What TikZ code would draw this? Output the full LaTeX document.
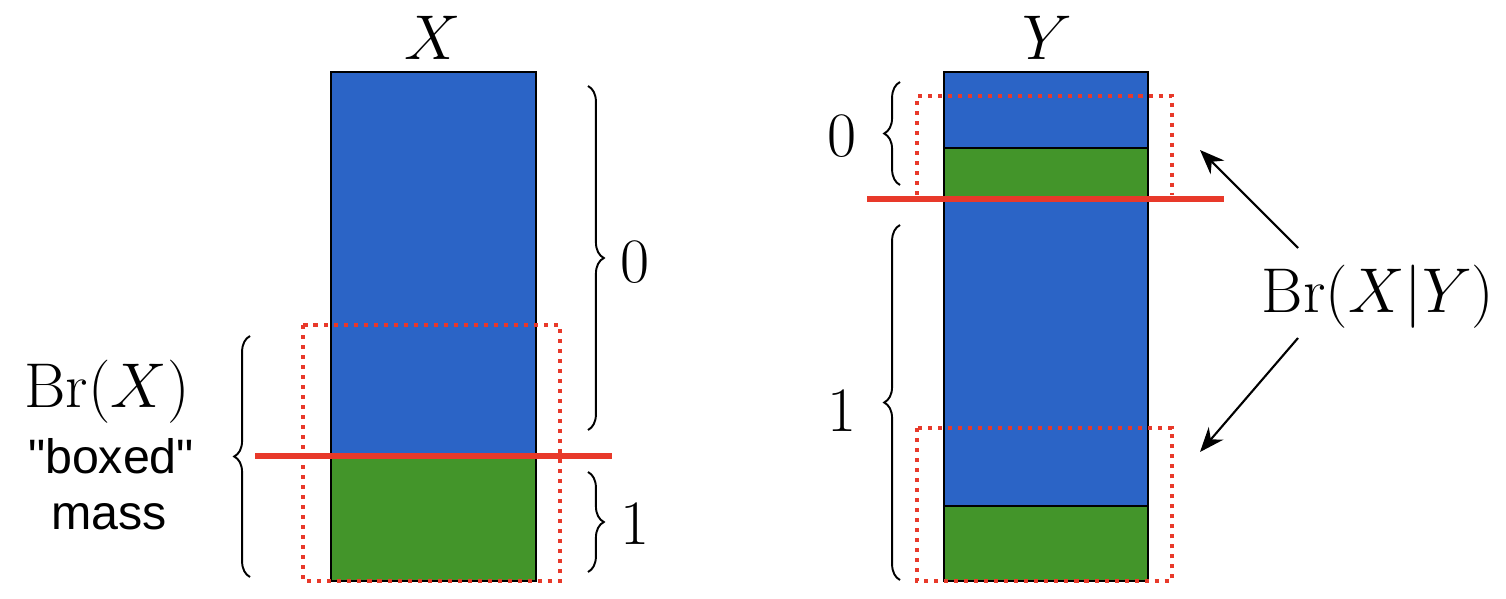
\RequirePackage{fix-cm}
\documentclass[tikz,border=0pt]{standalone}
\usepackage{fontspec}
\newfontfamily\labelsans{Liberation Sans}
\usetikzlibrary{decorations.pathreplacing,arrows.meta}
\definecolor{barblue}{HTML}{2B64C6}
\definecolor{bargreen}{HTML}{43952A}
\definecolor{cutred}{HTML}{E8392A}
\tikzset{
  bluepart/.style={fill=barblue,draw=black,line width=1.4pt},
  greenpart/.style={fill=bargreen,draw=black,line width=1.4pt},
  cutline/.style={draw=cutred,line width=3.4pt},
  boxedmass/.style={draw=cutred,line width=2.3pt,dash pattern=on 2.3pt off 3.4pt},
  bracedeco/.style={decorate,decoration={brace,amplitude=9pt},line width=1.1pt},
  mathlabel/.style={font=\fontsize{36}{42}\selectfont,inner sep=0pt},
  sanslabel/.style={font=\labelsans\fontsize{27.5}{31}\selectfont,inner sep=0pt},
  pointer/.style={-{Stealth[length=14pt,width=11pt]},line width=1.2pt}
}
\begin{document}
\begin{tikzpicture}[x=0.02cm,y=-0.02cm]
\useasboundingbox (0,0) rectangle (1506,598);
% ---- left column X ----
\draw[bluepart] (331,72) rectangle (536,456);
\draw[greenpart] (331,456) rectangle (536,581);
\draw[boxedmass] (303,325) rectangle (560,581);
\coordinate (xcutL) at (255,456);
\coordinate (xcutR) at (612,456);
\draw[cutline] (xcutL) -- (xcutR);
\node[mathlabel] (xlab) at (433,38) {$X$};
\draw[bracedeco] (588,86) -- (588,430);
\draw[bracedeco] (588,472) -- (588,572);
\node[mathlabel,anchor=west] (x0) at (620,262) {$0$};
\node[mathlabel,anchor=west] (x1) at (620,524) {$1$};
\draw[bracedeco] (250,577) -- (250,336);
\node[mathlabel] (brx) at (107,392) {$\mathrm{Br}(X)$};
\node[sanslabel] (boxed) at (111,456) {"boxed"};
\node[sanslabel] (mass) at (109,517) {mass};
% ---- right column Y ----
\draw[bluepart] (944,72) rectangle (1148,148);
\draw[greenpart] (944,148) rectangle (1148,200);
\draw[bluepart] (944,200) rectangle (1148,506);
\draw[greenpart] (944,506) rectangle (1148,581);
\draw[boxedmass] (917,195) -- (917,96) -- (1172,96) -- (1172,195);
\draw[boxedmass] (917,428) rectangle (1172,581);
\coordinate (ycutL) at (867,199);
\coordinate (ycutR) at (1224,199);
\draw[cutline] (ycutL) -- (ycutR);
\node[mathlabel] (ylab) at (1047,38) {$Y$};
\draw[bracedeco] (900,185) -- (900,82);
\draw[bracedeco] (900,580) -- (900,225);
\node[mathlabel] (y0) at (842,136) {$0$};
\node[mathlabel] (y1) at (842,411) {$1$};
\node[mathlabel] (brxy) at (1378,297) {$\mathrm{Br}(X|Y)$};
\coordinate (topbox) at (1200,150);
\coordinate (botbox) at (1200,452);
\draw[pointer] (1298,248) -- (topbox);
\draw[pointer] (1298,338) -- (botbox);
\end{tikzpicture}
\end{document}
